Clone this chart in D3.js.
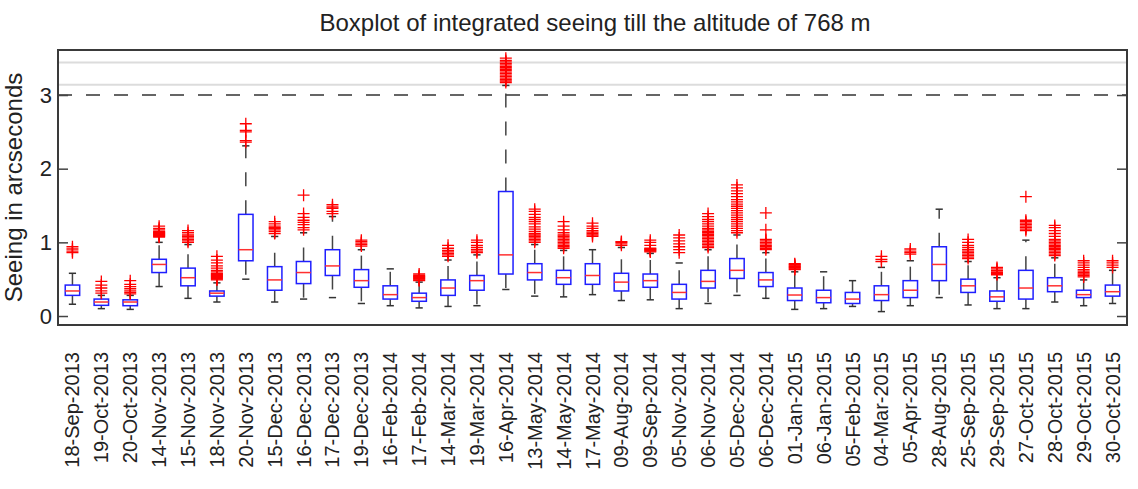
<!DOCTYPE html>
<html lang="en">
<head>
    <meta charset="UTF-8">
    <title>Boxplot of integrated seeing</title>
    <script src="https://d3js.org/d3.v7.min.js"></script>
</head>
<style>
    body {
        margin: 0;
        background-color: white;
    }
    text {
        font-family: "Liberation Sans", Arial, Helvetica, sans-serif;
        fill: #222;
    }
</style>
<body>
<svg id="main" width="1138" height="489"></svg>
<script>
    // one entry per observation night
    const dates = ['18-Sep-2013', '19-Oct-2013', '20-Oct-2013', '14-Nov-2013', '15-Nov-2013', '18-Nov-2013',
        '20-Nov-2013', '15-Dec-2013', '16-Dec-2013', '17-Dec-2013', '19-Dec-2013', '16-Feb-2014', '17-Feb-2014',
        '14-Mar-2014', '19-Mar-2014', '16-Apr-2014', '13-May-2014', '14-May-2014', '17-May-2014', '09-Aug-2014',
        '09-Sep-2014', '05-Nov-2014', '06-Nov-2014', '05-Dec-2014', '06-Dec-2014', '01-Jan-2015', '06-Jan-2015',
        '05-Feb-2015', '04-Mar-2015', '05-Apr-2015', '28-Aug-2015', '25-Sep-2015', '29-Sep-2015', '27-Oct-2015',
        '28-Oct-2015', '29-Oct-2015', '30-Oct-2015'];

    const whiskerLow = [0.16, 0.10, 0.09, 0.40, 0.24, 0.19, 0.50, 0.19, 0.23, 0.25, 0.17, 0.14, 0.11,
        0.13, 0.14, 0.36, 0.27, 0.26, 0.29, 0.21, 0.22, 0.10, 0.17, 0.28, 0.24, 0.09, 0.10,
        0.13, 0.06, 0.14, 0.25, 0.15, 0.10, 0.10, 0.19, 0.14, 0.17];
    const q1 = [0.28, 0.145, 0.14, 0.59, 0.41, 0.27, 0.75, 0.35, 0.44, 0.55, 0.39, 0.23, 0.20,
        0.28, 0.35, 0.57, 0.49, 0.43, 0.43, 0.34, 0.39, 0.23, 0.38, 0.51, 0.40, 0.21, 0.18,
        0.17, 0.21, 0.25, 0.48, 0.32, 0.20, 0.23, 0.33, 0.25, 0.27];
    const median = [0.34, 0.19, 0.19, 0.70, 0.52, 0.31, 0.90, 0.49, 0.59, 0.68, 0.48, 0.29, 0.25,
        0.38, 0.48, 0.83, 0.59, 0.52, 0.55, 0.46, 0.48, 0.32, 0.47, 0.62, 0.49, 0.285, 0.25,
        0.23, 0.29, 0.35, 0.70, 0.41, 0.26, 0.38, 0.41, 0.29, 0.33];
    const q3 = [0.42, 0.23, 0.22, 0.77, 0.65, 0.34, 1.38, 0.67, 0.74, 0.90, 0.63, 0.41, 0.31,
        0.49, 0.55, 1.69, 0.71, 0.62, 0.71, 0.58, 0.57, 0.43, 0.62, 0.78, 0.59, 0.38, 0.35,
        0.32, 0.41, 0.48, 0.94, 0.50, 0.34, 0.62, 0.52, 0.35, 0.42];
    const whiskerHigh = [0.58, 0.28, 0.28, 1.00, 0.97, 0.45, 2.31, 1.08, 1.13, 1.35, 0.90, 0.64, 0.46,
        0.76, 0.83, 3.13, 0.97, 0.89, 0.90, 0.93, 0.85, 0.72, 0.90, 1.10, 0.86, 0.60, 0.60,
        0.48, 0.66, 0.75, 1.45, 0.74, 0.52, 1.03, 0.79, 0.49, 0.62];

    const outliers = [
        [0.86, 0.88, 0.91, 0.94],
        [0.31, 0.34, 0.38, 0.42, 0.47],
        [0.30, 0.32, 0.34, 0.37, 0.40, 0.43, 0.48],
        [1.07, 1.08, 1.09, 1.10, 1.11, 1.12, 1.13, 1.14, 1.15, 1.17, 1.19, 1.22],
        [1.00, 1.02, 1.04, 1.06, 1.08, 1.10, 1.13, 1.16],
        [0.49, 0.50, 0.51, 0.52, 0.53, 0.54, 0.55, 0.56, 0.57, 0.58, 0.60, 0.62, 0.65, 0.68, 0.72, 0.76, 0.81],
        [2.36, 2.38, 2.50, 2.52, 2.61],
        [1.12, 1.15, 1.17, 1.19, 1.20, 1.22, 1.25, 1.28],
        [1.17, 1.20, 1.24, 1.27, 1.30, 1.34, 1.39, 1.64],
        [1.39, 1.42, 1.46, 1.48, 1.51],
        [0.95, 0.97, 0.99, 1.01, 1.03],
        [],
        [0.48, 0.49, 0.50, 0.51, 0.52, 0.53, 0.54, 0.55, 0.57],
        [0.81, 0.83, 0.85, 0.87, 0.89, 0.92, 0.96],
        [0.86, 0.88, 0.90, 0.93, 0.96, 1.00, 1.03],
        [3.17, 3.19, 3.21, 3.23, 3.25, 3.27, 3.29, 3.31, 3.33, 3.35, 3.37, 3.39, 3.41, 3.43, 3.45, 3.47, 3.50],
        [1.00, 1.02, 1.04, 1.06, 1.08, 1.10, 1.12, 1.15, 1.18, 1.21, 1.25, 1.28, 1.31, 1.34, 1.38, 1.42, 1.45],
        [0.92, 0.94, 0.96, 0.98, 1.00, 1.02, 1.04, 1.06, 1.08, 1.10, 1.13, 1.17, 1.22, 1.28],
        [1.08, 1.10, 1.12, 1.14, 1.16, 1.19, 1.22, 1.26],
        [0.96, 0.98, 1.00, 1.01],
        [0.87, 0.88, 0.89, 0.90, 0.91, 0.92, 0.96, 1.00, 1.03],
        [0.86, 0.90, 0.94, 0.98, 1.02, 1.06, 1.10],
        [0.93, 0.95, 0.97, 0.99, 1.01, 1.03, 1.05, 1.07, 1.09, 1.11, 1.13, 1.15, 1.17, 1.19, 1.22, 1.25, 1.28, 1.31, 1.35, 1.39],
        [1.13, 1.16, 1.19, 1.22, 1.25, 1.28, 1.31, 1.34, 1.37, 1.40, 1.43, 1.46, 1.49, 1.52, 1.55, 1.58, 1.62, 1.66, 1.70, 1.74, 1.78],
        [0.90, 0.92, 0.94, 0.96, 0.98, 1.00, 1.02, 1.04, 1.17, 1.40],
        [0.63, 0.64, 0.65, 0.66, 0.67, 0.68, 0.69, 0.70, 0.71],
        [],
        [],
        [0.74, 0.77, 0.81],
        [0.84, 0.86, 0.88, 0.91],
        [],
        [0.78, 0.80, 0.82, 0.84, 0.86, 0.88, 0.90, 0.93, 0.96, 1.00, 1.04],
        [0.56, 0.57, 0.58, 0.59, 0.60, 0.62, 0.64, 0.66],
        [1.16, 1.18, 1.20, 1.22, 1.24, 1.26, 1.28, 1.30, 1.62],
        [0.82, 0.84, 0.86, 0.88, 0.90, 0.92, 0.94, 0.96, 0.98, 1.00, 1.02, 1.04, 1.08, 1.12, 1.16, 1.20, 1.23],
        [0.53, 0.55, 0.57, 0.59, 0.61, 0.63, 0.66, 0.69, 0.72, 0.75],
        [0.66, 0.69, 0.72, 0.75]
    ];

    const yTicks = [0, 1, 2, 3];
    const limitLine = 3;          // dashed reference
    const greyLines = [3.14, 3.44];

    let svg = d3.select('svg#main');
    let plotLeft = 58, plotRight = 1127, plotTop = 50, plotBottom = 325;

    let x = d3.scaleBand().domain(dates).range([plotLeft, plotRight]);
    let y = d3.scaleLinear().domain([-0.122, 3.611]).range([plotBottom, plotTop]);
    let boxW = x.bandwidth() * 0.5;
    let capW = boxW * 0.5;

    // light grey lines near the top
    svg.selectAll('.grey').data(greyLines).enter().append('line')
        .attr('x1', plotLeft).attr('x2', plotRight)
        .attr('y1', d => y(d)).attr('y2', d => y(d))
        .attr('stroke', '#dcdcdc').attr('stroke-width', 2);

    svg.append('line')
        .attr('x1', plotLeft).attr('x2', plotRight)
        .attr('y1', y(limitLine)).attr('y2', y(limitLine))
        .attr('stroke', '#333').attr('stroke-width', 1.5)
        .attr('stroke-dasharray', '14,14');

    let rows = dates.map((d, i) => ({
        date: d, lo: whiskerLow[i], q1: q1[i], med: median[i], q3: q3[i], hi: whiskerHigh[i], out: outliers[i]
    }));

    let g = svg.selectAll('.box').data(rows).enter().append('g')
        .attr('class', 'box')
        .attr('transform', d => 'translate(' + (x(d.date) + x.bandwidth() / 2) + ',0)');

    // whiskers (dashed) and caps
    g.append('line').attr('x1', 0).attr('x2', 0)
        .attr('y1', d => y(d.q3)).attr('y2', d => y(d.hi))
        .attr('stroke', '#444').attr('stroke-width', 1.5).attr('stroke-dasharray', '14,14');
    g.append('line').attr('x1', 0).attr('x2', 0)
        .attr('y1', d => y(d.q1)).attr('y2', d => y(d.lo))
        .attr('stroke', '#444').attr('stroke-width', 1.5).attr('stroke-dasharray', '14,14');
    g.append('line').attr('x1', -capW / 2).attr('x2', capW / 2)
        .attr('y1', d => y(d.hi)).attr('y2', d => y(d.hi))
        .attr('stroke', '#333').attr('stroke-width', 1.5);
    g.append('line').attr('x1', -capW / 2).attr('x2', capW / 2)
        .attr('y1', d => y(d.lo)).attr('y2', d => y(d.lo))
        .attr('stroke', '#333').attr('stroke-width', 1.5);

    g.append('rect')
        .attr('x', -boxW / 2).attr('width', boxW)
        .attr('y', d => y(d.q3)).attr('height', d => y(d.q1) - y(d.q3))
        .attr('fill', 'white').attr('stroke', '#1f1fff').attr('stroke-width', 1.5);

    g.append('line').attr('x1', -boxW / 2).attr('x2', boxW / 2)
        .attr('y1', d => y(d.med)).attr('y2', d => y(d.med))
        .attr('stroke', '#ff3030').attr('stroke-width', 1.5);

    // outliers as red crosses
    g.selectAll('.out').data(d => d.out).enter().append('path')
        .attr('d', v => 'M-6,' + y(v) + 'H6M0,' + (y(v) - 6) + 'V' + (y(v) + 6))
        .attr('stroke', '#ff0000').attr('stroke-width', 1.3).attr('fill', 'none');

    // axes
    svg.append('g').attr('transform', 'translate(' + plotLeft + ',0)')
        .call(d3.axisLeft(y).tickValues(yTicks).tickSize(-10).tickPadding(6).tickFormat(d3.format('d')))
        .call(a => a.select('.domain').remove())
        .call(a => a.selectAll('line').attr('stroke', '#444').attr('stroke-width', 1.5))
        .call(a => a.selectAll('text').attr('font-size', 22).attr('fill', '#222')
            .attr('font-family', '"Liberation Sans", Arial, sans-serif'));
    svg.append('g').attr('transform', 'translate(' + plotRight + ',0)')
        .call(d3.axisRight(y).tickValues(yTicks).tickSize(-10).tickFormat(''))
        .call(a => a.select('.domain').remove())
        .call(a => a.selectAll('line').attr('stroke', '#444').attr('stroke-width', 1.5));

    svg.append('rect')
        .attr('x', plotLeft).attr('y', plotTop).attr('width', plotRight - plotLeft).attr('height', plotBottom - plotTop)
        .attr('fill', 'none').attr('stroke', '#3a3a3a').attr('stroke-width', 2);

    // rotated date labels
    svg.selectAll('.xlab').data(dates).enter().append('text')
        .attr('transform', d => 'translate(' + (x(d) + x.bandwidth() / 2) + ',352) rotate(-90)')
        .attr('text-anchor', 'end').attr('dy', '0.35em')
        .attr('font-size', 20)
        .text(d => d);

    svg.append('text')
        .attr('x', 595).attr('y', 31)
        .attr('text-anchor', 'middle').attr('font-size', 24)
        .text('Boxplot of integrated seeing till the altitude of 768 m');

    svg.append('text')
        .attr('transform', 'translate(22,' + ((plotTop + plotBottom) / 2) + ') rotate(-90)')
        .attr('text-anchor', 'middle').attr('font-size', 24)
        .text('Seeing in arcseconds');
</script>
</body>
</html>
